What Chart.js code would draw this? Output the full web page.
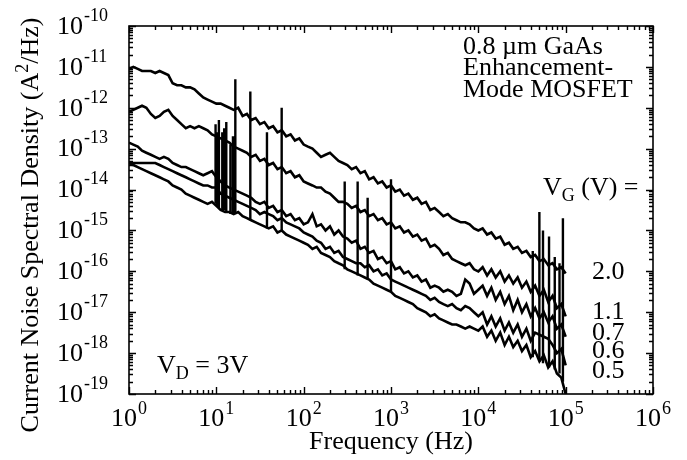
<!DOCTYPE html>
<html><head><meta charset="utf-8">
<script src="https://cdn.jsdelivr.net/npm/chart.js@4"></script>
<style>html,body{margin:0;padding:0;background:#fff}</style>
</head><body>
<canvas id="c" width="687" height="460"></canvas>
<script>
// Frequencies (Hz) of the measured points
const freq = [1, 1.12, 1.26, 1.41, 1.58, 1.78, 2, 2.24, 2.51, 2.82, 3.16, 3.55, 3.98, 4.47, 5.01, 5.62, 6.31, 7.08, 7.94, 8.91,
  10, 11.2, 12.6, 14.1, 15.8, 17.8, 20, 22.4, 25.1, 28.2, 31.6, 35.5, 39.8, 44.7, 50.1, 56.2, 63.1, 70.8, 79.4, 89.1,
  100, 112, 126, 141, 158, 178, 200, 224, 251, 282, 316, 355, 398, 447, 501, 562, 631, 708, 794, 891,
  1000, 1120, 1260, 1410, 1580, 1780, 2000, 2240, 2510, 2820, 3160, 3550, 3980, 4470, 5010, 5620, 6310, 7080, 7940, 8910,
  10000, 11200, 12600, 14100, 15800, 17800, 20000, 22400, 25100, 28200, 31600, 35500, 39800, 44700, 50100, 56200, 63100, 70800, 79400, 89100,
  100000];

// Current noise spectral density (A^2/Hz) for each gate voltage
const sVG20 = [8.91e-12, 1e-11, 8.91e-12, 7.94e-12, 7.94e-12, 7.94e-12, 7.08e-12, 7.94e-12, 7.08e-12, 6.31e-12,
  3.98e-12, 3.55e-12, 3.55e-12, 3.16e-12, 3.16e-12, 2.82e-12, 2.24e-12, 1.78e-12, 1.58e-12, 1.41e-12,
  1.26e-12, 1.26e-12, 1.12e-12, 1e-12, 8.91e-13, 1e-12, 6.31e-13, 7.08e-13, 5.01e-13, 5.62e-13,
  3.98e-13, 4.47e-13, 3.16e-13, 3.55e-13, 2.51e-13, 2.82e-13, 2e-13, 2.24e-13, 1.58e-13, 1.78e-13,
  1.26e-13, 1.12e-13, 1e-13, 7.94e-14, 6.31e-14, 7.08e-14, 7.94e-14, 6.31e-14, 5.01e-14, 4.47e-14,
  3.98e-14, 3.16e-14, 3.55e-14, 2.51e-14, 2.82e-14, 1.78e-14, 2e-14, 1.41e-14, 1.58e-14, 1.12e-14,
  1.26e-14, 8.91e-15, 1e-14, 7.08e-15, 7.94e-15, 5.62e-15, 6.31e-15, 4.47e-15, 5.01e-15, 3.16e-15,
  3.55e-15, 2.82e-15, 2.24e-15, 2.51e-15, 2e-15, 1.78e-15, 1.58e-15, 1.58e-15, 1.41e-15, 1.12e-15,
  1e-15, 1.12e-15, 7.94e-16, 8.91e-16, 6.31e-16, 7.08e-16, 4.47e-16, 5.01e-16, 3.55e-16, 3.98e-16,
  2.82e-16, 3.16e-16, 2.24e-16, 2.51e-16, 1.78e-16, 2e-16, 1.41e-16, 1.58e-16, 1.12e-16, 1.26e-16,
  8.91e-17];

const sVG11 = [7.94e-13, 8.91e-13, 1e-12, 1.12e-12, 1e-12, 7.08e-13, 5.62e-13, 6.31e-13, 7.94e-13, 8.91e-13,
  6.31e-13, 5.01e-13, 3.98e-13, 3.16e-13, 3.55e-13, 3.16e-13, 3.55e-13, 3.16e-13, 2.82e-13, 2.24e-13,
  2e-13, 1.78e-13, 1.58e-13, 1.41e-13, 1.12e-13, 1e-13, 8.91e-14, 7.94e-14, 6.31e-14, 7.08e-14,
  5.01e-14, 5.62e-14, 3.98e-14, 4.47e-14, 3.16e-14, 3.55e-14, 2.51e-14, 2.82e-14, 2e-14, 2.24e-14,
  1.58e-14, 1.41e-14, 1.26e-14, 1.12e-14, 1.12e-14, 8.91e-15, 7.94e-15, 6.31e-15, 5.01e-15, 5.01e-15,
  4.47e-15, 3.55e-15, 3.98e-15, 2.82e-15, 3.16e-15, 2.24e-15, 2.51e-15, 1.78e-15, 2e-15, 1.41e-15,
  1.58e-15, 1.12e-15, 1.26e-15, 8.91e-16, 1e-15, 7.08e-16, 7.94e-16, 5.62e-16, 6.31e-16, 3.98e-16,
  4.47e-16, 3.55e-16, 2.51e-16, 2.82e-16, 2e-16, 1.78e-16, 1.58e-16, 1.41e-16, 1.58e-16, 1.12e-16,
  1e-16, 1.26e-16, 7.94e-17, 1.12e-16, 7.08e-17, 1e-16, 5.62e-17, 7.94e-17, 5.01e-17, 7.08e-17,
  3.98e-17, 5.62e-17, 3.16e-17, 4.47e-17, 2.51e-17, 3.55e-17, 1.78e-17, 2.51e-17, 1.26e-17, 1.58e-17,
  7.94e-18];

const sVG07 = [1.41e-13, 1.26e-13, 1.12e-13, 8.91e-14, 7.94e-14, 7.08e-14, 6.31e-14, 5.62e-14, 6.31e-14, 5.62e-14,
  4.47e-14, 3.98e-14, 3.55e-14, 3.55e-14, 3.16e-14, 2.82e-14, 2.51e-14, 2.24e-14, 2.51e-14, 2.82e-14,
  2e-14, 1.58e-14, 1.26e-14, 1.12e-14, 1e-14, 8.91e-15, 7.94e-15, 7.08e-15, 6.31e-15, 5.01e-15,
  4.47e-15, 5.01e-15, 3.55e-15, 3.98e-15, 2.82e-15, 3.16e-15, 2.24e-15, 2.51e-15, 1.78e-15, 2e-15,
  1.41e-15, 1.58e-15, 2.51e-15, 1.26e-15, 1.41e-15, 1e-15, 1.26e-15, 7.94e-16, 1e-15, 7.08e-16,
  6.31e-16, 5.01e-16, 5.62e-16, 3.55e-16, 3.98e-16, 2.82e-16, 3.16e-16, 2e-16, 2.24e-16, 1.58e-16,
  1.78e-16, 1.12e-16, 1.26e-16, 8.91e-17, 1e-16, 7.08e-17, 7.94e-17, 5.62e-17, 6.31e-17, 3.98e-17,
  4.47e-17, 3.98e-17, 3.16e-17, 3.55e-17, 3.16e-17, 2.51e-17, 2.82e-17, 6.31e-17, 5.01e-17, 2.82e-17,
  3.55e-17, 4.47e-17, 2.51e-17, 3.98e-17, 2e-17, 3.16e-17, 1.58e-17, 2.51e-17, 1.12e-17, 2e-17,
  1e-17, 1.58e-17, 7.94e-18, 1.26e-17, 7.08e-18, 1e-17, 5.62e-18, 7.94e-18, 3.98e-18, 5.01e-18,
  2.51e-18];

const sVG06 = [4.47e-14, 4.47e-14, 4.47e-14, 4.47e-14, 4.47e-14, 4.47e-14, 4.47e-14, 3.98e-14, 3.55e-14, 3.16e-14,
  2.82e-14, 2.51e-14, 2.24e-14, 2e-14, 1.78e-14, 1.58e-14, 1.41e-14, 1.26e-14, 1.26e-14, 1.12e-14,
  1.12e-14, 7.94e-15, 7.08e-15, 6.31e-15, 5.62e-15, 5.01e-15, 4.47e-15, 3.98e-15, 3.55e-15, 3.16e-15,
  2.51e-15, 2.82e-15, 2.51e-15, 2.24e-15, 1.78e-15, 2e-15, 1.58e-15, 1.41e-15, 1.26e-15, 1.12e-15,
  8.91e-16, 7.94e-16, 7.08e-16, 5.62e-16, 5.01e-16, 3.55e-16, 3.98e-16, 2.82e-16, 3.16e-16, 2.24e-16,
  2e-16, 1.78e-16, 1.58e-16, 1.58e-16, 1.26e-16, 1.41e-16, 1e-16, 1.12e-16, 7.94e-17, 8.91e-17,
  6.31e-17, 5.62e-17, 5.01e-17, 4.47e-17, 3.98e-17, 3.55e-17, 3.16e-17, 2.82e-17, 2.51e-17, 2e-17,
  2.24e-17, 1.78e-17, 1.58e-17, 1.41e-17, 1.58e-17, 1.26e-17, 1.12e-17, 1.41e-17, 1.26e-17, 1e-17,
  7.94e-18, 1e-17, 5.01e-18, 7.94e-18, 4.47e-18, 7.08e-18, 3.55e-18, 5.62e-18, 3.16e-18, 5.01e-18,
  2.51e-18, 3.98e-18, 2e-18, 3.16e-18, 2.82e-18, 2.51e-18, 2.24e-18, 1.58e-18, 1e-18, 1.26e-18,
  5.01e-19];

const sVG05 = [4.47e-14, 3.98e-14, 3.55e-14, 3.16e-14, 2.82e-14, 2.51e-14, 2.24e-14, 2e-14, 1.78e-14, 1.58e-14,
  1.26e-14, 1.12e-14, 1e-14, 7.94e-15, 7.08e-15, 6.31e-15, 5.62e-15, 5.01e-15, 4.47e-15, 5.01e-15,
  3.98e-15, 3.16e-15, 2.82e-15, 2.82e-15, 2.51e-15, 2.82e-15, 2.24e-15, 2e-15, 1.78e-15, 1.58e-15,
  1.41e-15, 1.26e-15, 1.12e-15, 1.26e-15, 8.91e-16, 1e-15, 7.94e-16, 7.08e-16, 6.31e-16, 5.62e-16,
  5.01e-16, 4.47e-16, 3.55e-16, 3.98e-16, 2.82e-16, 2.51e-16, 2.24e-16, 1.78e-16, 1.58e-16, 1.41e-16,
  1.12e-16, 1e-16, 8.91e-17, 7.94e-17, 7.08e-17, 6.31e-17, 5.01e-17, 4.47e-17, 3.98e-17, 3.55e-17,
  3.16e-17, 2.51e-17, 2.24e-17, 2e-17, 1.78e-17, 1.58e-17, 1.26e-17, 1.12e-17, 1e-17, 7.94e-18,
  8.91e-18, 7.08e-18, 6.31e-18, 5.62e-18, 5.01e-18, 5.01e-18, 4.47e-18, 3.98e-18, 4.47e-18, 3.98e-18,
  3.55e-18, 4.47e-18, 2.51e-18, 3.55e-18, 2e-18, 3.16e-18, 1.58e-18, 2.51e-18, 1.41e-18, 2e-18,
  1.12e-18, 1.58e-18, 7.94e-19, 1.12e-18, 6.31e-19, 8.91e-19, 4.47e-19, 6.31e-19, 3.16e-19, 2.51e-19,
  1e-19];

// Interference spikes: frequency (Hz), floor and peak (A^2/Hz)
const spikeFreq = [9.8, 10.2, 10.7, 11.7, 12.3, 13, 14.5, 15.5, 16.5, 24.5, 38, 56,
  295, 415, 540, 1000, 42000, 50000, 55000, 64500, 75000, 85000, 93000];
const spikeBase = [4.47e-15, 3.98e-15, 3.55e-15, 3.16e-15, 3.16e-15, 2.82e-15, 2.51e-15, 2.51e-15, 2.51e-15, 1.78e-15, 1.12e-15, 1e-15,
  1.12e-16, 7.94e-17, 6.31e-17, 3.16e-17, 7.94e-19, 6.31e-19, 5.62e-19, 4.47e-19, 3.98e-19, 3.16e-19, 2e-19];
const spikeTop = [3.98e-13, 2.51e-13, 5.01e-13, 2.51e-13, 3.16e-13, 4.47e-13, 1.26e-13, 2e-13, 5.01e-12, 2.51e-12, 2.51e-13, 1e-12,
  1.58e-14, 1.58e-14, 6.31e-15, 1.78e-14, 3.16e-16, 2.82e-15, 1e-15, 7.08e-16, 2.24e-16, 1.58e-16, 2e-15];

const gateLabels = ['2.0', '1.1', '0.7', '0.6', '0.5'];
const xTickExps = [0, 1, 2, 3, 4, 5, 6];
const yTickExps = [-19, -18, -17, -16, -15, -14, -13, -12, -11, -10];
const xTitle = 'Frequency (Hz)';
const yTitleParts = ['Current Noise Spectral Density (A', '2', '/Hz)'];
const deviceText = ['0.8 \u00b5m GaAs', 'Enhancement-', 'Mode MOSFET'];

const SERIF = '"Liberation Serif", "Times New Roman", serif';
function font(px) { return px + 'px ' + SERIF; }

function pts(vals) { return freq.map((f, i) => ({ x: f, y: vals[i] })); }
const seriesList = [sVG20, sVG11, sVG07, sVG06, sVG05];
const spikePts = [];
spikeFreq.forEach((f, i) => {
  spikePts.push({ x: f, y: spikeBase[i] }, { x: f, y: spikeTop[i] }, { x: f, y: null });
});

const decor = {
  id: 'decor',
  afterDraw(chart) {
    const ctx = chart.ctx, a = chart.chartArea;
    const xs = chart.scales.x, ys = chart.scales.y;
    ctx.save();
    ctx.strokeStyle = '#000';
    ctx.fillStyle = '#000';
    ctx.lineWidth = 1.4;
    ctx.beginPath();
    for (let e = 0; e <= 6; e++) {
      for (let m = 1; m <= 9; m++) {
        if (e === 6 && m > 1) break;
        const px = Math.round(xs.getPixelForValue(m * Math.pow(10, e))) + 0.5;
        const L = m === 1 ? 7 : 4;
        ctx.moveTo(px, a.bottom); ctx.lineTo(px, a.bottom - L);
        ctx.moveTo(px, a.top); ctx.lineTo(px, a.top + L);
      }
    }
    for (let e = -19; e <= -10; e++) {
      for (let m = 1; m <= 9; m++) {
        if (e === -10 && m > 1) break;
        const py = Math.round(ys.getPixelForValue(m * Math.pow(10, e))) + 0.5;
        const L = m === 1 ? 7 : 4;
        ctx.moveTo(a.left, py); ctx.lineTo(a.left + L, py);
        ctx.moveTo(a.right, py); ctx.lineTo(a.right - L, py);
      }
    }
    ctx.stroke();
    ctx.lineWidth = 1.6;
    ctx.strokeRect(a.left, a.top, a.right - a.left, a.bottom - a.top);

    ctx.textBaseline = 'middle';
    yTickExps.forEach(e => {
      const py = ys.getPixelForValue(Math.pow(10, e));
      ctx.font = font(26); ctx.textAlign = 'right';
      ctx.fillText('10', 83, py + 1);
      ctx.font = font(18); ctx.textAlign = 'left';
      ctx.fillText('-' + (-e), 84, py - 10);
    });
    xTickExps.forEach(e => {
      const px = xs.getPixelForValue(Math.pow(10, e));
      ctx.font = font(26);
      const w1 = ctx.measureText('10').width;
      ctx.font = font(18);
      const w2 = ctx.measureText(String(e)).width;
      const start = px - (w1 + 1 + w2) / 2;
      ctx.textAlign = 'left';
      ctx.font = font(26); ctx.fillText('10', start, 419);
      ctx.font = font(18); ctx.fillText(String(e), start + w1 + 1, 409);
    });
    ctx.font = font(26); ctx.textAlign = 'center'; ctx.textBaseline = 'alphabetic';
    ctx.fillText(xTitle, (a.left + a.right) / 2, 449);
    ctx.save();
    ctx.translate(38, 225);
    ctx.rotate(-Math.PI / 2);
    ctx.textAlign = 'left';
    ctx.font = font(26); const w0 = ctx.measureText(yTitleParts[0]).width;
    const w2t = ctx.measureText(yTitleParts[2]).width;
    ctx.font = font(18); const w1t = ctx.measureText(yTitleParts[1]).width;
    let sx = -(w0 + w1t + w2t) / 2;
    ctx.font = font(26); ctx.fillText(yTitleParts[0], sx, 0); sx += w0;
    ctx.font = font(18); ctx.fillText(yTitleParts[1], sx, -10); sx += w1t;
    ctx.font = font(26); ctx.fillText(yTitleParts[2], sx, 0);
    ctx.restore();

    ctx.textAlign = 'left'; ctx.textBaseline = 'middle';
    ctx.font = font(26);
    deviceText.forEach((t, i) => ctx.fillText(t, 463, 47 + i * 21.5));

    ctx.font = font(26); ctx.fillText('V', 157, 366);
    let w = ctx.measureText('V').width;
    ctx.font = font(18); ctx.fillText('D', 157 + w, 374);
    const wd = ctx.measureText('D').width;
    ctx.font = font(26); ctx.fillText(' = 3V', 157 + w + wd, 366);

    ctx.font = font(26); ctx.fillText('V', 543, 188);
    w = ctx.measureText('V').width;
    ctx.font = font(18); ctx.fillText('G', 543 + w, 196);
    const wg = ctx.measureText('G').width;
    ctx.font = font(26); ctx.fillText(' (V) =', 543 + w + wg, 188);

    const labelY = [272, 312, 333, 351, 371];
    gateLabels.forEach((t, i) => ctx.fillText(t, 592, labelY[i]));
    ctx.restore();
  }
};

const datasets = seriesList.map((s, i) => ({
  label: 'VG = ' + gateLabels[i] + ' V',
  data: pts(s),
  borderColor: '#000',
  borderWidth: 2.6,
  pointRadius: 0,
  tension: 0,
  fill: false
}));
datasets.push({
  label: 'spikes',
  data: spikePts,
  borderColor: '#000',
  borderWidth: 2.4,
  pointRadius: 0,
  spanGaps: false,
  fill: false
});

new Chart(document.getElementById('c'), {
  type: 'line',
  data: { datasets },
  options: {
    responsive: false,
    animation: false,
    devicePixelRatio: 1,
    layout: { padding: { left: 129, top: 26, right: 34, bottom: 66 } },
    plugins: { legend: { display: false }, tooltip: { enabled: false } },
    scales: {
      x: { type: 'logarithmic', min: 1, max: 1e6, display: false },
      y: { type: 'logarithmic', min: 1e-19, max: 1e-10, display: false }
    }
  },
  plugins: [decor]
});
</script>
</body></html>
